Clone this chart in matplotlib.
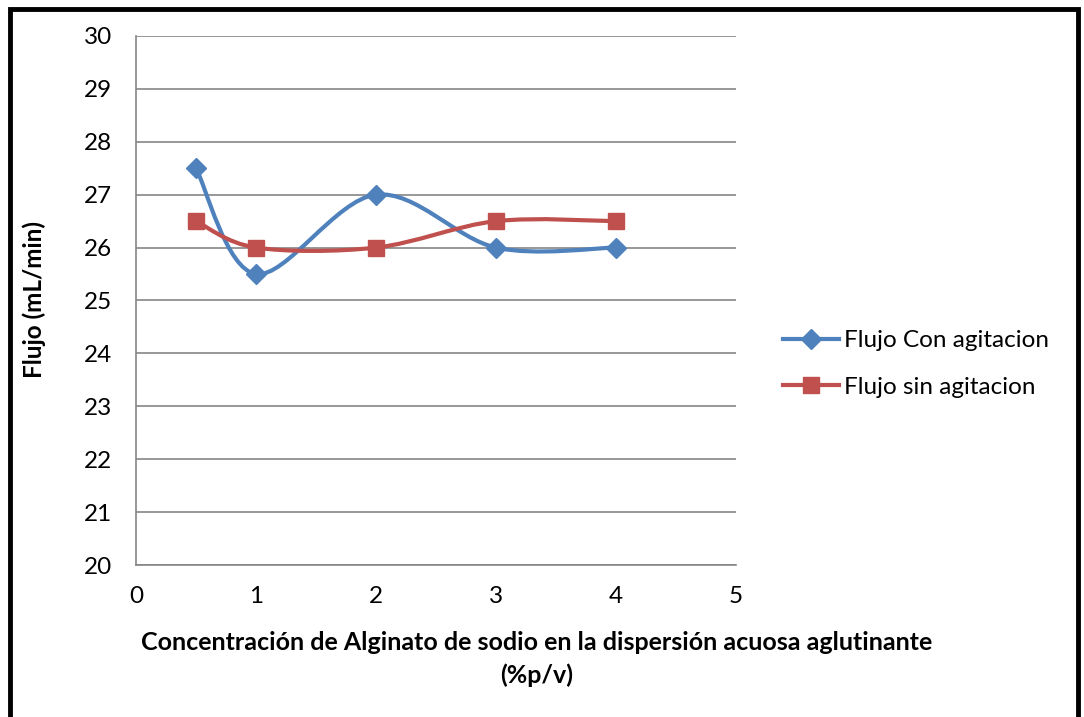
import numpy as np
import matplotlib
matplotlib.use("Agg")
import matplotlib.pyplot as plt
from matplotlib.path import Path
from matplotlib.patches import PathPatch, Rectangle
from matplotlib.lines import Line2D

plt.rcParams["font.family"] = ["Lato", "DejaVu Sans"]

conc = [0.5, 1, 2, 3, 4]
flujo_con = [27.5, 25.5, 27, 26, 26]
flujo_sin = [26.5, 26, 26, 26.5, 26.5]
series_names = ["Flujo Con agitacion", "Flujo sin agitacion"]

BLUE = "#4F81BD"
RED = "#C0504D"
GRID = "#868686"
FS = 17.5


def smooth_path(x, y):
    """Bezier path through the points, Catmull-Rom style like a spreadsheet 'smoothed line'."""
    pts = np.column_stack([x, y]).astype(float)
    verts = [pts[0]]
    codes = [Path.MOVETO]
    n = len(pts)
    for i in range(n - 1):
        p0 = pts[i - 1] if i > 0 else pts[i]
        p1 = pts[i]
        p2 = pts[i + 1]
        p3 = pts[i + 2] if i + 2 < n else pts[i + 1]
        c1 = p1 + (p2 - p0) / 6.0
        c2 = p2 - (p3 - p1) / 6.0
        verts += [c1, c2, p2]
        codes += [Path.CURVE4] * 3
    return Path(verts, codes)


fig = plt.figure(figsize=(10.84, 7.17), dpi=100)
ax = fig.add_axes([136 / 1084, 1 - 565 / 717, 600 / 1084, 529 / 717])

for vals, color, marker, ms in [(flujo_con, BLUE, "D", 10.5), (flujo_sin, RED, "s", 12)]:
    ax.add_patch(PathPatch(smooth_path(conc, vals), fill=False, edgecolor=color,
                           lw=3.0, capstyle="round", zorder=3))
    ax.plot(conc, vals, ls="none", marker=marker, ms=ms, color=color,
            markeredgecolor=color, zorder=4, clip_on=False)

ax.set_xlim(0, 5)
ax.set_ylim(20, 30)
ax.set_xticks(range(0, 6))
ax.set_yticks(range(20, 31))
ax.tick_params(length=0, labelsize=FS)
ax.tick_params(axis="x", pad=15)
ax.tick_params(axis="y", pad=17)
ax.grid(axis="y", color=GRID, lw=1.2)
ax.set_axisbelow(True)
for s in ["top", "right"]:
    ax.spines[s].set_visible(False)
for s in ["left", "bottom"]:
    ax.spines[s].set_color(GRID)
    ax.spines[s].set_linewidth(1.2)

fig.text(34 / 1084, 1 - 300 / 717, "Flujo (mL/min)", rotation=90,
         ha="center", va="center", fontsize=FS, fontweight="bold")
fig.text(537 / 1084, 1 - 643 / 717,
         "Concentración de Alginato de sodio en la dispersión acuosa aglutinante",
         ha="center", va="center", fontsize=18, fontweight="bold")
fig.text(537 / 1084, 1 - 675 / 717, "(%p/v)",
         ha="center", va="center", fontsize=18, fontweight="bold")

handles = [
    Line2D([], [], color=BLUE, lw=3.0, marker="D", ms=10.5),
    Line2D([], [], color=RED, lw=3.0, marker="s", ms=12),
]
fig.legend(handles, series_names, loc="center left",
           bbox_to_anchor=(761 / 1084, 1 - 364 / 717), frameon=False,
           fontsize=FS, handlelength=2.3, handletextpad=0.2, labelspacing=1.05)

# black frame around the whole chart
fig.patches.append(Rectangle((10 / 1084, -0.05), 1068 / 1084, 1.05 - 9 / 717,
                             transform=fig.transFigure, fill=False,
                             edgecolor="black", lw=3.5))

fig.savefig("out.png", dpi=100)
plt.close(fig)
